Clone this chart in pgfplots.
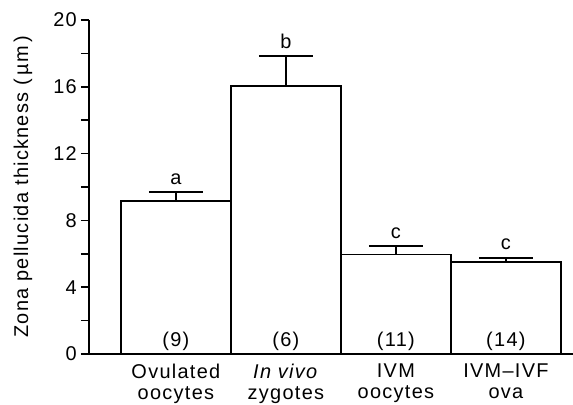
\documentclass[border=0pt]{standalone}
\usepackage{pgfplots}
\pgfplotsset{compat=1.18}
\usepackage{fontspec}
\setmainfont[LetterSpace=6.5]{Liberation Sans}
\newcommand\chartfont{\fontsize{20}{21}\selectfont}

\begin{document}
\begin{tikzpicture}
\begin{axis}[
  scale only axis, width=484bp, height=334bp,
  axis x line=bottom, axis y line=left,
  axis line style={-, line width=2bp},
  xmin=-0.79, xmax=3.61, ymin=0, ymax=20,
  xtick={0,1,2,3},
  xticklabels={Ovulated\\oocytes, \textit{In vivo}\\zygotes, IVM\\oocytes, IVM--IVF\\ova},
  xtick style={draw=none},
  ytick={0,4,...,20}, minor ytick={2,6,...,18},
  tick align=outside, major tick length=8bp, minor tick length=8bp,
  ytick style={line width=1.6bp, black},
  minor tick style={line width=1.6bp, black},
  /pgf/number format/assume math mode=true,
  tick label style={font=\chartfont},
  xticklabel style={align=center, inner sep=0pt, yshift=-2bp},
  yticklabel style={inner sep=0pt, xshift=-4bp},
  ylabel={Zona pellucida thickness (\,µm\,)},
  ylabel style={at={(axis description cs:-0.126,0.5)}, anchor=base, inner sep=0pt, font=\chartfont},
  clip=false,
]
% bars with upper error bars (mean + SEM)
\addplot[ybar, bar width=1, fill=white, draw=black, line width=1.7bp,
  error bars/.cd, y dir=plus, y explicit,
  error bar style={line width=1.7bp, black},
  error mark options={rotate=90, black, line width=1.7bp, mark size=27bp}]
  coordinates {
  (0,9.16) +- (0,0.52)
  (1,16.05) +- (0,1.79)
  (2,5.95) +- (0,0.50)
  (3,5.49) +- (0,0.26)
};
% significance letters
\addplot[draw=none, mark=none, nodes near coords, point meta=explicit symbolic,
  nodes near coords style={anchor=base, inner sep=0pt, yshift=8bp, font=\chartfont}]
  coordinates {(0,9.68)[a] (1,17.84)[b] (2,6.45)[c] (3,5.75)[c]};
% sample sizes
\addplot[draw=none, mark=none, nodes near coords, point meta=explicit symbolic,
  nodes near coords style={anchor=base, inner sep=0pt, yshift=8bp, font=\chartfont}]
  coordinates {(0,0)[(9)] (1,0)[(6)] (2,0)[(11)] (3,0)[(14)]};
\end{axis}
\pgfresetboundingbox
\path[use as bounding box] (-89bp,-51bp) rectangle (484bp,354bp);
\end{tikzpicture}
\end{document}
